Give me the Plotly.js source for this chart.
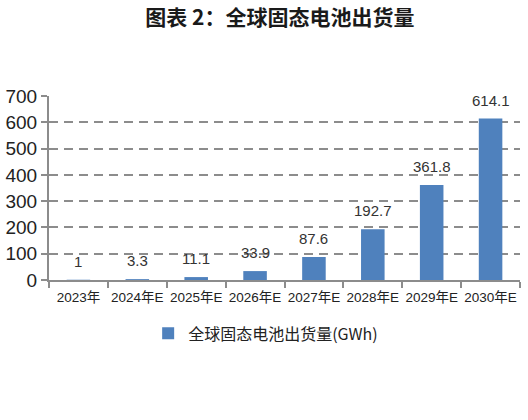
<!DOCTYPE html>
<html>
<head>
<meta charset="utf-8">
<script src="https://cdn.plot.ly/plotly-3.0.1.min.js"></script>
<style>
  html, body { margin: 0; padding: 0; background: #fff; }
  #chart { width: 528px; height: 420px; }
</style>
</head>
<body>
<div id="chart"></div>
<script>
// chart data
var years = ['2023年', '2024年E', '2025年E', '2026年E', '2027年E', '2028年E', '2029年E', '2030年E'];
var shipments = [1, 3.3, 11.1, 33.9, 87.6, 192.7, 361.8, 614.1];
var seriesName = '全球固态电池出货量(GWh)';
var yTicks = [0, 100, 200, 300, 400, 500, 600, 700];

var fontFam = 'Arial, "Liberation Sans", "Noto Sans CJK SC", sans-serif';

var trace = {
    type: 'bar',
    x: years,
    y: shipments,
    name: seriesName,
    width: 0.4,
    marker: {color: '#4F81BD'},
    hoverinfo: 'skip'
};

// value labels sit a bit above each bar
var labels = years.map(function (yr, i) {
    return {
        x: yr,
        y: shipments[i],
        text: String(shipments[i]),
        showarrow: false,
        yanchor: 'bottom',
        yshift: 8,
        font: {size: 15, color: '#333', family: fontFam}
    };
});

var layout = {
    width: 528,
    height: 420,
    paper_bgcolor: '#fff',
    plot_bgcolor: '#fff',
    margin: {l: 49, r: 8, t: 96, b: 140},
    font: {family: fontFam, color: '#222'},
    title: {
        text: '<b>图表 2：全球固态电池出货量</b>',
        x: 0.53,
        xanchor: 'center',
        y: 0.958,
        yanchor: 'middle',
        font: {size: 21, color: '#1a1a1a', family: '"Noto Sans CJK SC", sans-serif'}
    },
    xaxis: {
        type: 'category',
        showline: true,
        linecolor: '#8c8c8c',
        linewidth: 2,
        ticks: 'outside',
        tickson: 'boundaries',
        ticklen: 6,
        tickwidth: 2,
        tickcolor: '#8c8c8c',
        tickangle: 0,
        ticklabelstandoff: 4,
        tickfont: {size: 13.5, color: '#222', family: fontFam},
        showgrid: false
    },
    yaxis: {
        range: [0, 700],
        tickvals: yTicks,
        showline: true,
        linecolor: '#8c8c8c',
        linewidth: 2,
        ticks: 'outside',
        ticklen: 6,
        tickwidth: 2,
        tickcolor: '#8c8c8c',
        tickfont: {size: 19, color: '#222', family: fontFam},
        showgrid: true,
        gridcolor: '#8c8c8c',
        gridwidth: 2,
        griddash: '9px,6px',
        zeroline: false
    },
    showlegend: true,
    legend: {
        orientation: 'h',
        x: 0.46,
        xanchor: 'center',
        y: -0.29,
        yanchor: 'middle',
        itemwidth: 30,
        font: {size: 16, color: '#222', family: '"Noto Sans CJK SC", sans-serif'}
    },
    annotations: labels
};

Plotly.newPlot('chart', [trace], layout, {displayModeBar: false, staticPlot: true});
</script>
</body>
</html>
